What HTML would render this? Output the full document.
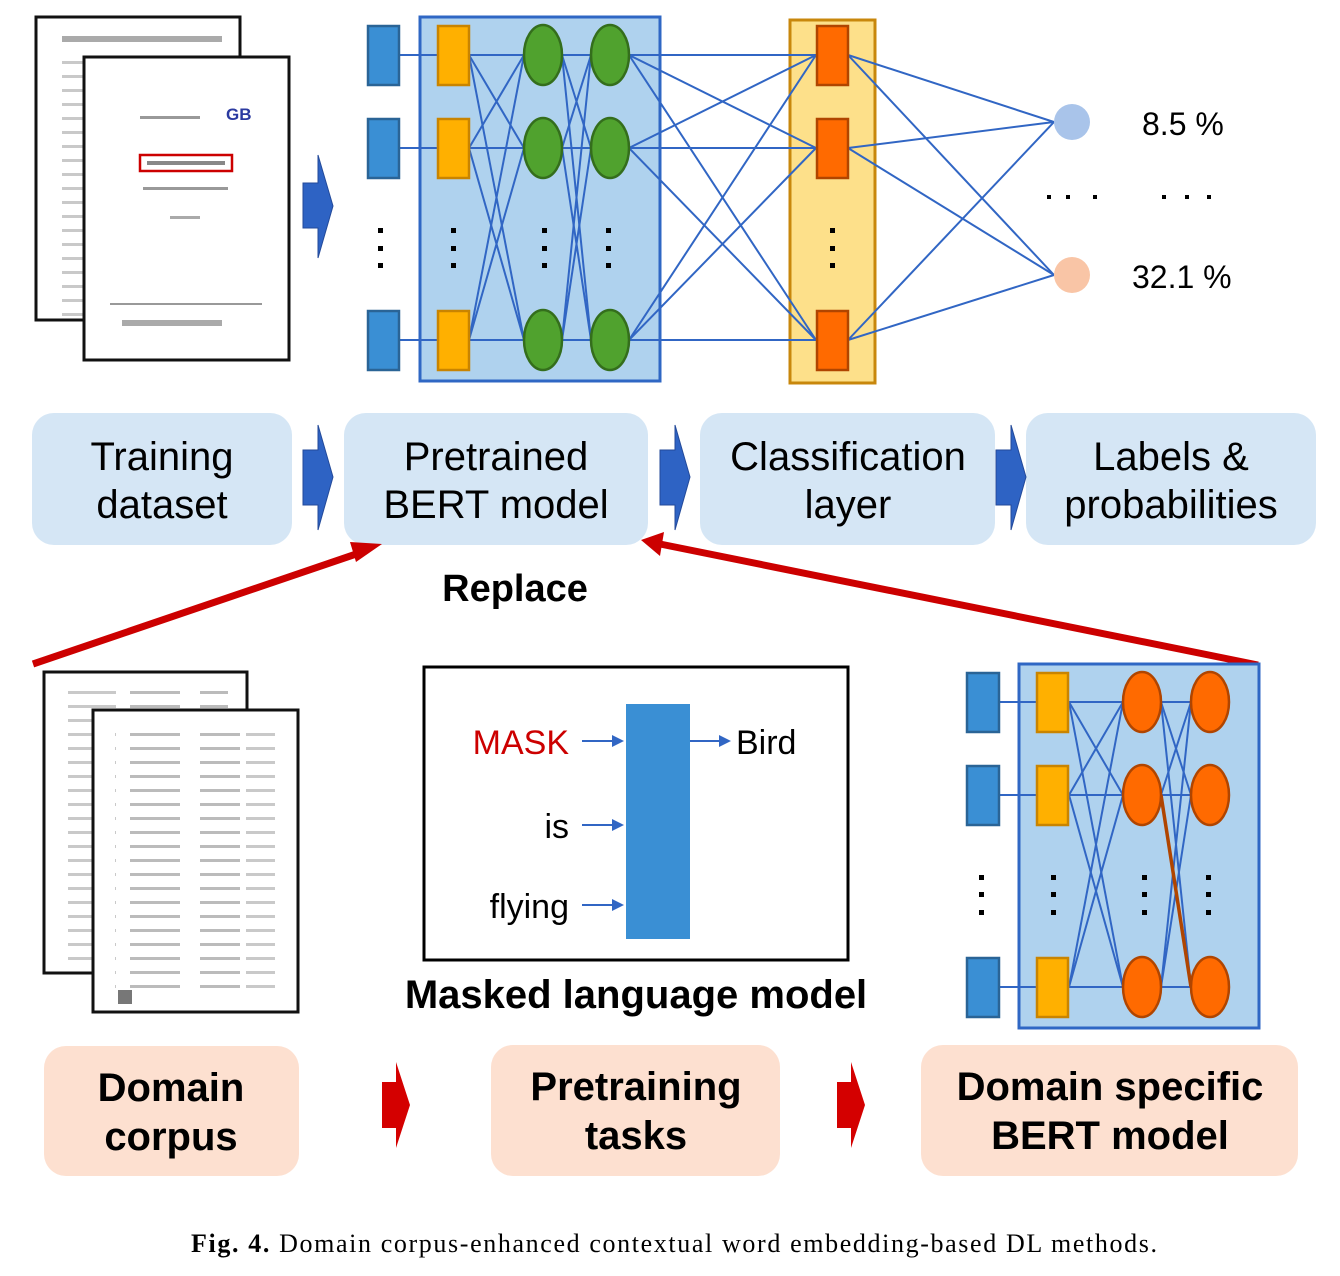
<!DOCTYPE html>
<html><head><meta charset="utf-8"><style>
body{margin:0;background:#fff;width:1340px;height:1276px;overflow:hidden}
svg{display:block}
.t{font-family:"Liberation Sans",sans-serif}
</style></head><body>
<svg width="1340" height="1276" viewBox="0 0 1340 1276" xmlns="http://www.w3.org/2000/svg">
<defs>
<pattern id="txt" width="200" height="14" patternUnits="userSpaceOnUse">
<rect x="0" y="5" width="40" height="3" fill="#aaa"/><rect x="46" y="5" width="70" height="3" fill="#bbb"/><rect x="130" y="5" width="50" height="3" fill="#aaa"/>
</pattern>
</defs>
<!-- top documents -->
<rect x="36" y="17" width="204" height="303" fill="#fff" stroke="#111" stroke-width="3"/>
<rect x="62" y="36" width="160" height="6" fill="#aaa"/>
<rect x="62" y="50" width="160" height="270" fill="url(#txt)" opacity="0.8"/>
<rect x="84" y="57" width="205" height="303" fill="#fff" stroke="#111" stroke-width="3"/>
<text x="226" y="120" class="t" font-size="17" font-weight="bold" fill="#2b3aa0">GB</text>
<rect x="140" y="116" width="60" height="3" fill="#999"/>
<rect x="140" y="155" width="92" height="16" fill="#fff" stroke="#c00" stroke-width="2.5"/>
<rect x="147" y="161" width="78" height="4" fill="#888"/>
<rect x="143" y="187" width="85" height="3" fill="#999"/>
<rect x="170" y="216" width="30" height="3" fill="#aaa"/>
<rect x="110" y="303" width="152" height="2" fill="#999"/>
<rect x="122" y="320" width="100" height="6" fill="#aaa"/>
<!-- arrow top -->
<polygon points="303,183 318,183 318,155 333,206 318,258 318,228 303,228" fill="#2e63c4" stroke="#234a9a" stroke-width="1"/>

<!-- top network -->
<rect x="420" y="17" width="240" height="364" fill="#afd2ee" stroke="#2f67c4" stroke-width="3"/>
<rect x="790" y="20" width="85" height="363" fill="#fde08a" stroke="#c8870c" stroke-width="3"/>
<g stroke="#3166c4" stroke-width="2">
<line x1="400" y1="55" x2="437" y2="55"/><line x1="400" y1="148" x2="437" y2="148"/><line x1="400" y1="340" x2="437" y2="340"/>
<line x1="469" y1="55" x2="524" y2="55"/><line x1="469" y1="55" x2="524" y2="148"/><line x1="469" y1="55" x2="524" y2="340"/>
<line x1="469" y1="148" x2="524" y2="55"/><line x1="469" y1="148" x2="524" y2="148"/><line x1="469" y1="148" x2="524" y2="340"/>
<line x1="469" y1="340" x2="524" y2="55"/><line x1="469" y1="340" x2="524" y2="148"/><line x1="469" y1="340" x2="524" y2="340"/>
<line x1="562" y1="55" x2="591" y2="55"/><line x1="562" y1="55" x2="591" y2="148"/><line x1="562" y1="55" x2="591" y2="340"/>
<line x1="562" y1="148" x2="591" y2="55"/><line x1="562" y1="148" x2="591" y2="148"/><line x1="562" y1="148" x2="591" y2="340"/>
<line x1="562" y1="340" x2="591" y2="55"/><line x1="562" y1="340" x2="591" y2="148"/><line x1="562" y1="340" x2="591" y2="340"/>
<line x1="629" y1="55" x2="816" y2="55"/><line x1="629" y1="55" x2="816" y2="148"/><line x1="629" y1="55" x2="816" y2="340"/>
<line x1="629" y1="148" x2="816" y2="55"/><line x1="629" y1="148" x2="816" y2="148"/><line x1="629" y1="148" x2="816" y2="340"/>
<line x1="629" y1="340" x2="816" y2="55"/><line x1="629" y1="340" x2="816" y2="148"/><line x1="629" y1="340" x2="816" y2="340"/>
<line x1="848" y1="55" x2="1054" y2="122"/><line x1="848" y1="55" x2="1054" y2="275"/>
<line x1="848" y1="148" x2="1054" y2="122"/><line x1="848" y1="148" x2="1054" y2="275"/>
<line x1="848" y1="340" x2="1054" y2="122"/><line x1="848" y1="340" x2="1054" y2="275"/>
</g>
<g fill="#3a8fd4" stroke="#2a6496" stroke-width="2.5">
<rect x="368" y="26" width="31" height="59"/><rect x="368" y="119" width="31" height="59"/><rect x="368" y="311" width="31" height="59"/>
</g>
<g fill="#ffb000" stroke="#c98400" stroke-width="2.5">
<rect x="438" y="26" width="31" height="59"/><rect x="438" y="119" width="31" height="59"/><rect x="438" y="311" width="31" height="59"/>
</g>
<g fill="#ff6a00" stroke="#b04500" stroke-width="2.5">
<rect x="817" y="26" width="31" height="59"/><rect x="817" y="119" width="31" height="59"/><rect x="817" y="311" width="31" height="59"/>
</g>
<g fill="#50a22e" stroke="#346e1c" stroke-width="2.5">
<ellipse cx="543" cy="55" rx="19" ry="30"/><ellipse cx="543" cy="148" rx="19" ry="30"/><ellipse cx="543" cy="340" rx="19" ry="30"/>
<ellipse cx="610" cy="55" rx="19" ry="30"/><ellipse cx="610" cy="148" rx="19" ry="30"/><ellipse cx="610" cy="340" rx="19" ry="30"/>
</g>
<g fill="#000">
<rect x="378" y="228" width="5" height="5"/><rect x="378" y="246" width="5" height="5"/><rect x="378" y="263" width="5" height="5"/>
<rect x="451" y="228" width="5" height="5"/><rect x="451" y="246" width="5" height="5"/><rect x="451" y="263" width="5" height="5"/>
<rect x="542" y="228" width="5" height="5"/><rect x="542" y="246" width="5" height="5"/><rect x="542" y="263" width="5" height="5"/>
<rect x="606" y="228" width="5" height="5"/><rect x="606" y="246" width="5" height="5"/><rect x="606" y="263" width="5" height="5"/>
<rect x="830" y="228" width="5" height="5"/><rect x="830" y="246" width="5" height="5"/><rect x="830" y="263" width="5" height="5"/>
</g>
<circle cx="1072" cy="122" r="18" fill="#a9c4ea"/>
<circle cx="1072" cy="275" r="18" fill="#f9c5a6"/>
<text x="1142" y="135" class="t" font-size="32" fill="#000">8.5 %</text>
<text x="1132" y="288" class="t" font-size="32" fill="#000">32.1 %</text>
<g fill="#000"><rect x="1047" y="195" width="4" height="4"/><rect x="1066" y="195" width="4" height="4"/><rect x="1093" y="195" width="4" height="4"/>
<rect x="1162" y="195" width="4" height="4"/><rect x="1185" y="195" width="4" height="4"/><rect x="1207" y="195" width="4" height="4"/></g>

<!-- blue label boxes -->
<g fill="#d5e6f5">
<rect x="32" y="413" width="260" height="132" rx="22"/>
<rect x="344" y="413" width="304" height="132" rx="22"/>
<rect x="700" y="413" width="295" height="132" rx="22"/>
<rect x="1026" y="413" width="290" height="132" rx="22"/>
</g>
<g class="t" font-size="40" fill="#000" text-anchor="middle">
<text x="162" y="470">Training</text><text x="162" y="518">dataset</text>
<text x="496" y="470">Pretrained</text><text x="496" y="518">BERT model</text>
<text x="848" y="470">Classification</text><text x="848" y="518">layer</text>
<text x="1171" y="470">Labels &amp;</text><text x="1171" y="518">probabilities</text>
</g>
<g fill="#2e63c4" stroke="#234a9a" stroke-width="1">
<polygon points="303,450 318,450 318,425 333,477 318,530 318,505 303,505"/>
<polygon points="660,450 675,450 675,425 690,477 675,530 675,505 660,505"/>
<polygon points="996,450 1011,450 1011,425 1026,477 1011,530 1011,505 996,505"/>
</g>

<!-- red replace lines -->
<g stroke="#cc0000" stroke-width="7" fill="#cc0000">
<line x1="33" y1="664" x2="365" y2="551"/>
<line x1="1258" y1="665" x2="660" y2="544"/>
</g>
<polygon points="382,544 356,562 350,542" fill="#cc0000"/>
<polygon points="641,540 664,532 660,556" fill="#cc0000"/>
<text x="515" y="601" class="t" font-size="38" font-weight="bold" text-anchor="middle">Replace</text>

<!-- bottom documents -->
<rect x="44" y="672" width="203" height="301" fill="#fff" stroke="#111" stroke-width="3"/>
<rect x="68" y="688" width="160" height="280" fill="url(#txt)" opacity="0.8"/>
<rect x="93" y="710" width="205" height="302" fill="#fff" stroke="#111" stroke-width="3"/>
<rect x="115" y="726" width="160" height="270" fill="url(#txt)" opacity="0.8"/>
<rect x="118" y="990" width="14" height="14" fill="#777"/>

<!-- MLM box -->
<rect x="424" y="667" width="424" height="293" fill="#fff" stroke="#000" stroke-width="3"/>
<rect x="626" y="704" width="64" height="235" fill="#3a8fd4"/>
<g class="t" font-size="34" text-anchor="end">
<text x="569" y="754" fill="#cc0000">MASK</text>
<text x="569" y="838" fill="#000">is</text>
<text x="569" y="918" fill="#000">flying</text>
</g>
<text x="736" y="754" class="t" font-size="34">Bird</text>
<g stroke="#3166c4" stroke-width="2"><line x1="582" y1="741" x2="614" y2="741"/><line x1="582" y1="825" x2="614" y2="825"/><line x1="582" y1="905" x2="614" y2="905"/><line x1="690" y1="741" x2="720" y2="741"/></g>
<g fill="#3166c4"><polygon points="624,741 612,735 612,747"/><polygon points="624,825 612,819 612,831"/><polygon points="624,905 612,899 612,911"/><polygon points="731,741 719,735 719,747"/></g>
<text x="636" y="1008" class="t" font-size="40" font-weight="bold" text-anchor="middle">Masked language model</text>

<!-- bottom network -->
<rect x="1019" y="664" width="240" height="364" fill="#afd2ee" stroke="#2f67c4" stroke-width="3"/>
<g stroke="#3166c4" stroke-width="2">
<line x1="1000" y1="702" x2="1036" y2="702"/><line x1="1000" y1="795" x2="1036" y2="795"/><line x1="1000" y1="987" x2="1036" y2="987"/>
<line x1="1069" y1="702" x2="1123" y2="702"/><line x1="1069" y1="702" x2="1123" y2="795"/><line x1="1069" y1="702" x2="1123" y2="987"/>
<line x1="1069" y1="795" x2="1123" y2="702"/><line x1="1069" y1="795" x2="1123" y2="795"/><line x1="1069" y1="795" x2="1123" y2="987"/>
<line x1="1069" y1="987" x2="1123" y2="702"/><line x1="1069" y1="987" x2="1123" y2="795"/><line x1="1069" y1="987" x2="1123" y2="987"/>
<line x1="1161" y1="702" x2="1191" y2="702"/><line x1="1161" y1="702" x2="1191" y2="795"/><line x1="1161" y1="702" x2="1191" y2="987"/>
<line x1="1161" y1="795" x2="1191" y2="702"/><line x1="1161" y1="795" x2="1191" y2="795"/>
<line x1="1161" y1="987" x2="1191" y2="702"/><line x1="1161" y1="987" x2="1191" y2="795"/><line x1="1161" y1="987" x2="1191" y2="987"/>
</g>
<line x1="1161" y1="795" x2="1191" y2="987" stroke="#b04500" stroke-width="3.5"/>
<g fill="#3a8fd4" stroke="#2a6496" stroke-width="2.5">
<rect x="967" y="673" width="32" height="59"/><rect x="967" y="766" width="32" height="59"/><rect x="967" y="958" width="32" height="59"/>
</g>
<g fill="#ffb000" stroke="#c98400" stroke-width="2.5">
<rect x="1037" y="673" width="31" height="59"/><rect x="1037" y="766" width="31" height="59"/><rect x="1037" y="958" width="31" height="59"/>
</g>
<g fill="#ff6a00" stroke="#b04500" stroke-width="2.5">
<ellipse cx="1142" cy="702" rx="19" ry="30"/><ellipse cx="1142" cy="795" rx="19" ry="30"/><ellipse cx="1142" cy="987" rx="19" ry="30"/>
<ellipse cx="1210" cy="702" rx="19" ry="30"/><ellipse cx="1210" cy="795" rx="19" ry="30"/><ellipse cx="1210" cy="987" rx="19" ry="30"/>
</g>
<g fill="#000">
<rect x="979" y="875" width="5" height="5"/><rect x="979" y="892" width="5" height="5"/><rect x="979" y="910" width="5" height="5"/>
<rect x="1051" y="875" width="5" height="5"/><rect x="1051" y="892" width="5" height="5"/><rect x="1051" y="910" width="5" height="5"/>
<rect x="1142" y="875" width="5" height="5"/><rect x="1142" y="892" width="5" height="5"/><rect x="1142" y="910" width="5" height="5"/>
<rect x="1206" y="875" width="5" height="5"/><rect x="1206" y="892" width="5" height="5"/><rect x="1206" y="910" width="5" height="5"/>
</g>

<!-- bottom peach boxes -->
<g fill="#fde0d0">
<rect x="44" y="1046" width="255" height="130" rx="22"/>
<rect x="491" y="1045" width="289" height="131" rx="22"/>
<rect x="921" y="1045" width="377" height="131" rx="22"/>
</g>
<g class="t" font-size="40" font-weight="bold" text-anchor="middle" fill="#000">
<text x="171" y="1101">Domain</text><text x="171" y="1150">corpus</text>
<text x="636" y="1100">Pretraining</text><text x="636" y="1149">tasks</text>
<text x="1110" y="1100">Domain specific</text><text x="1110" y="1149">BERT model</text>
</g>
<g fill="#d40000">
<polygon points="382,1082 396,1082 396,1062 410,1105 396,1148 396,1128 382,1128"/>
<polygon points="837,1082 851,1082 851,1062 865,1105 851,1148 851,1128 837,1128"/>
</g>

<text x="191" y="1252" font-family="Liberation Serif,serif" font-size="26" textLength="966" lengthAdjust="spacing"><tspan font-weight="bold">Fig. 4.</tspan>  Domain corpus-enhanced contextual word embedding-based DL methods.</text>
</svg>
</body></html>
